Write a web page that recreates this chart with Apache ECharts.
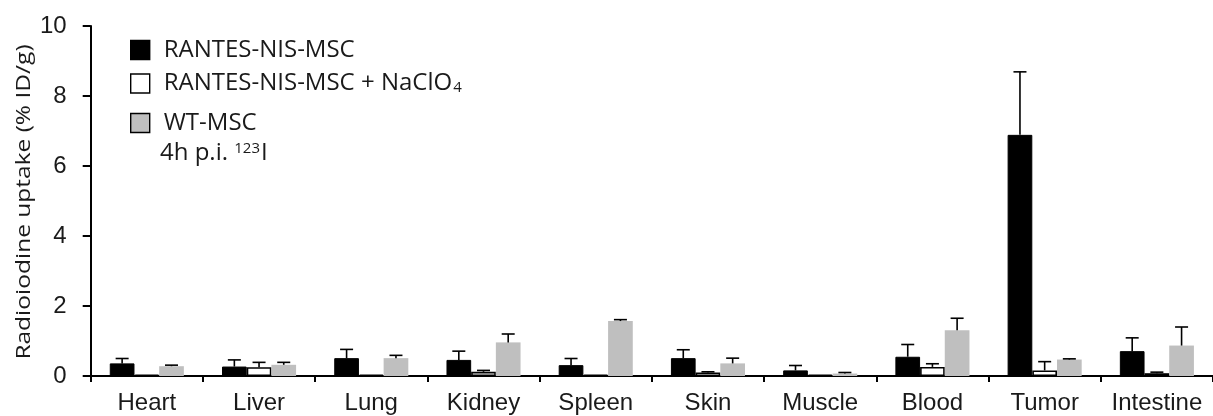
<!DOCTYPE html>
<html>
<head>
<meta charset="utf-8">
<script src="https://cdn.jsdelivr.net/npm/echarts@6/dist/echarts.min.js"></script>
<style>
  html, body { margin: 0; padding: 0; background: #fff; }
  #chart { width: 1213px; height: 416px; }
</style>
</head>
<body>
<div id="chart"></div>
<script>
// Organ biodistribution of radioiodine, 4 h after injection
const categories = ['Heart', 'Liver', 'Lung', 'Kidney', 'Spleen', 'Skin', 'Muscle', 'Blood', 'Tumor', 'Intestine'];

const nisMean = [0.36, 0.27, 0.51, 0.46, 0.31, 0.51, 0.16, 0.55, 6.89, 0.71];
const nisErr  = [0.14, 0.19, 0.25, 0.25, 0.19, 0.24, 0.14, 0.35, 1.80, 0.38];

const perchlorateMean = [0.04, 0.25, 0.04, 0.12, 0.04, 0.10, 0.04, 0.26, 0.16, 0.08];
const perchlorateErr  = [0.00, 0.14, 0.00, 0.04, 0.00, 0.02, 0.00, 0.09, 0.25, 0.03];

const wtMean = [0.28, 0.32, 0.51, 0.96, 1.57, 0.36, 0.07, 1.31, 0.47, 0.87];
const wtErr  = [0.03, 0.07, 0.08, 0.24, 0.04, 0.15, 0.03, 0.34, 0.02, 0.53];

const yTicks = [0, 2, 4, 6, 8, 10];

const seriesNames = ['RANTES-NIS-MSC', 'RANTES-NIS-MSC + NaClO4', 'WT-MSC'];
const yTitle = 'Radioiodine uptake (% ID/g)';

const CAT_GAP = 0.34;          // barCategoryGap as a fraction
const BAR_SHARE = (1 - CAT_GAP) / 3;
const TEXT_FONT = 'Open Sans';
const TEXT_COLOR = '#1a1a1a';

function errorSeries(groupIndex, means, errs) {
  return {
    type: 'custom',
    silent: true,
    z: 5,
    data: means.map((m, i) => [i, m, errs[i]]),
    encode: { x: 0, y: 1 },
    renderItem: function (params, api) {
      const err = api.value(2);
      if (!(err > 0)) return null;
      const band = api.size([1, 0])[0];
      const barW = band * BAR_SHARE;
      const base = api.coord([api.value(0), api.value(1)]);
      const x = base[0] + (groupIndex - 1) * barW;
      const top = api.coord([api.value(0), api.value(1) + err])[1];
      const half = 6.5;
      const style = { stroke: '#000', lineWidth: 1.6 };
      return {
        type: 'group',
        children: [
          { type: 'line', shape: { x1: x, y1: base[1], x2: x, y2: top }, style: style },
          { type: 'line', shape: { x1: x - half, y1: top, x2: x + half, y2: top }, style: style }
        ]
      };
    }
  };
}

// one legend block per series, stacked top-left inside the plot
function legendBlock(name, top) {
  return {
    orient: 'vertical',
    left: 125,
    top: top,
    itemWidth: 19,
    itemHeight: 19,
    icon: 'rect',
    selectedMode: false,
    data: [name],
    itemStyle: { borderColor: '#000', borderWidth: 1.4 },
    textStyle: {
      fontFamily: TEXT_FONT,
      fontSize: 24,
      lineHeight: 24,
      color: TEXT_COLOR,
      padding: [0, 0, 0, 9],
      rich: {
        sub: { fontFamily: TEXT_FONT, fontSize: 15, lineHeight: 15, color: TEXT_COLOR, verticalAlign: 'bottom', padding: [7, 0, 0, 1] }
      }
    },
    formatter: function (n) {
      return n === seriesNames[1] ? 'RANTES-NIS-MSC + NaClO{sub|4}' : n;
    }
  };
}

const chart = echarts.init(document.getElementById('chart'), null, { renderer: 'canvas' });

chart.setOption({
  animation: false,
  backgroundColor: '#ffffff',
  grid: { left: 90.7, top: 26, width: 1133.3, height: 350, containLabel: false },
  legend: [
    legendBlock(seriesNames[0], 33),
    legendBlock(seriesNames[1], 66.5),
    legendBlock(seriesNames[2], 106)
  ],
  graphic: [
    {
      type: 'text',
      left: 160,
      top: 141,
      style: {
        text: '4h p.i. {sup|123}I',
        fontFamily: TEXT_FONT,
        fontSize: 24,
        lineHeight: 24,
        fill: TEXT_COLOR,
        rich: {
          sup: { fontFamily: TEXT_FONT, fontSize: 15, lineHeight: 15, fill: TEXT_COLOR, verticalAlign: 'top', padding: [0, 1, 6, 0] }
        }
      }
    },
    {
      // y-axis title: long but flat lettering, read bottom to top
      type: 'text',
      x: 24.5,
      y: 202,
      rotation: Math.PI / 2,
      scaleY: 0.78,
      style: {
        text: yTitle,
        fontFamily: TEXT_FONT,
        fontSize: 24.5,
        fill: TEXT_COLOR,
        align: 'center',
        verticalAlign: 'middle'
      }
    }
  ],
  xAxis: {
    type: 'category',
    data: categories,
    axisLine: { lineStyle: { color: '#000', width: 2 } },
    axisTick: { show: true, inside: false, length: 6, alignWithLabel: false, lineStyle: { color: '#000', width: 2 } },
    axisLabel: { fontFamily: 'Liberation Sans', fontSize: 24, color: TEXT_COLOR, margin: 15, interval: 0 },
    splitLine: { show: false }
  },
  yAxis: {
    type: 'value',
    min: yTicks[0],
    max: yTicks[yTicks.length - 1],
    interval: 2,
    axisLine: { show: true, lineStyle: { color: '#000', width: 2 } },
    axisTick: { show: true, inside: false, length: 8, lineStyle: { color: '#000', width: 2 } },
    axisLabel: { fontFamily: 'Liberation Sans', fontSize: 24, color: TEXT_COLOR, margin: 24 },
    splitLine: { show: false }
  },
  series: [
    {
      name: seriesNames[0],
      type: 'bar',
      data: nisMean,
      barGap: '0%',
      barCategoryGap: (CAT_GAP * 100) + '%',
      itemStyle: { color: '#000', borderColor: '#000', borderWidth: 1 }
    },
    {
      name: seriesNames[1],
      type: 'bar',
      data: perchlorateMean,
      barGap: '0%',
      barCategoryGap: (CAT_GAP * 100) + '%',
      itemStyle: { color: '#fff', borderColor: '#000', borderWidth: 1.6 }
    },
    {
      name: seriesNames[2],
      type: 'bar',
      data: wtMean,
      barGap: '0%',
      barCategoryGap: (CAT_GAP * 100) + '%',
      itemStyle: { color: '#bfbfbf', borderWidth: 0 }
    },
    errorSeries(0, nisMean, nisErr),
    errorSeries(1, perchlorateMean, perchlorateErr),
    errorSeries(2, wtMean, wtErr)
  ]
});
</script>
</body>
</html>
